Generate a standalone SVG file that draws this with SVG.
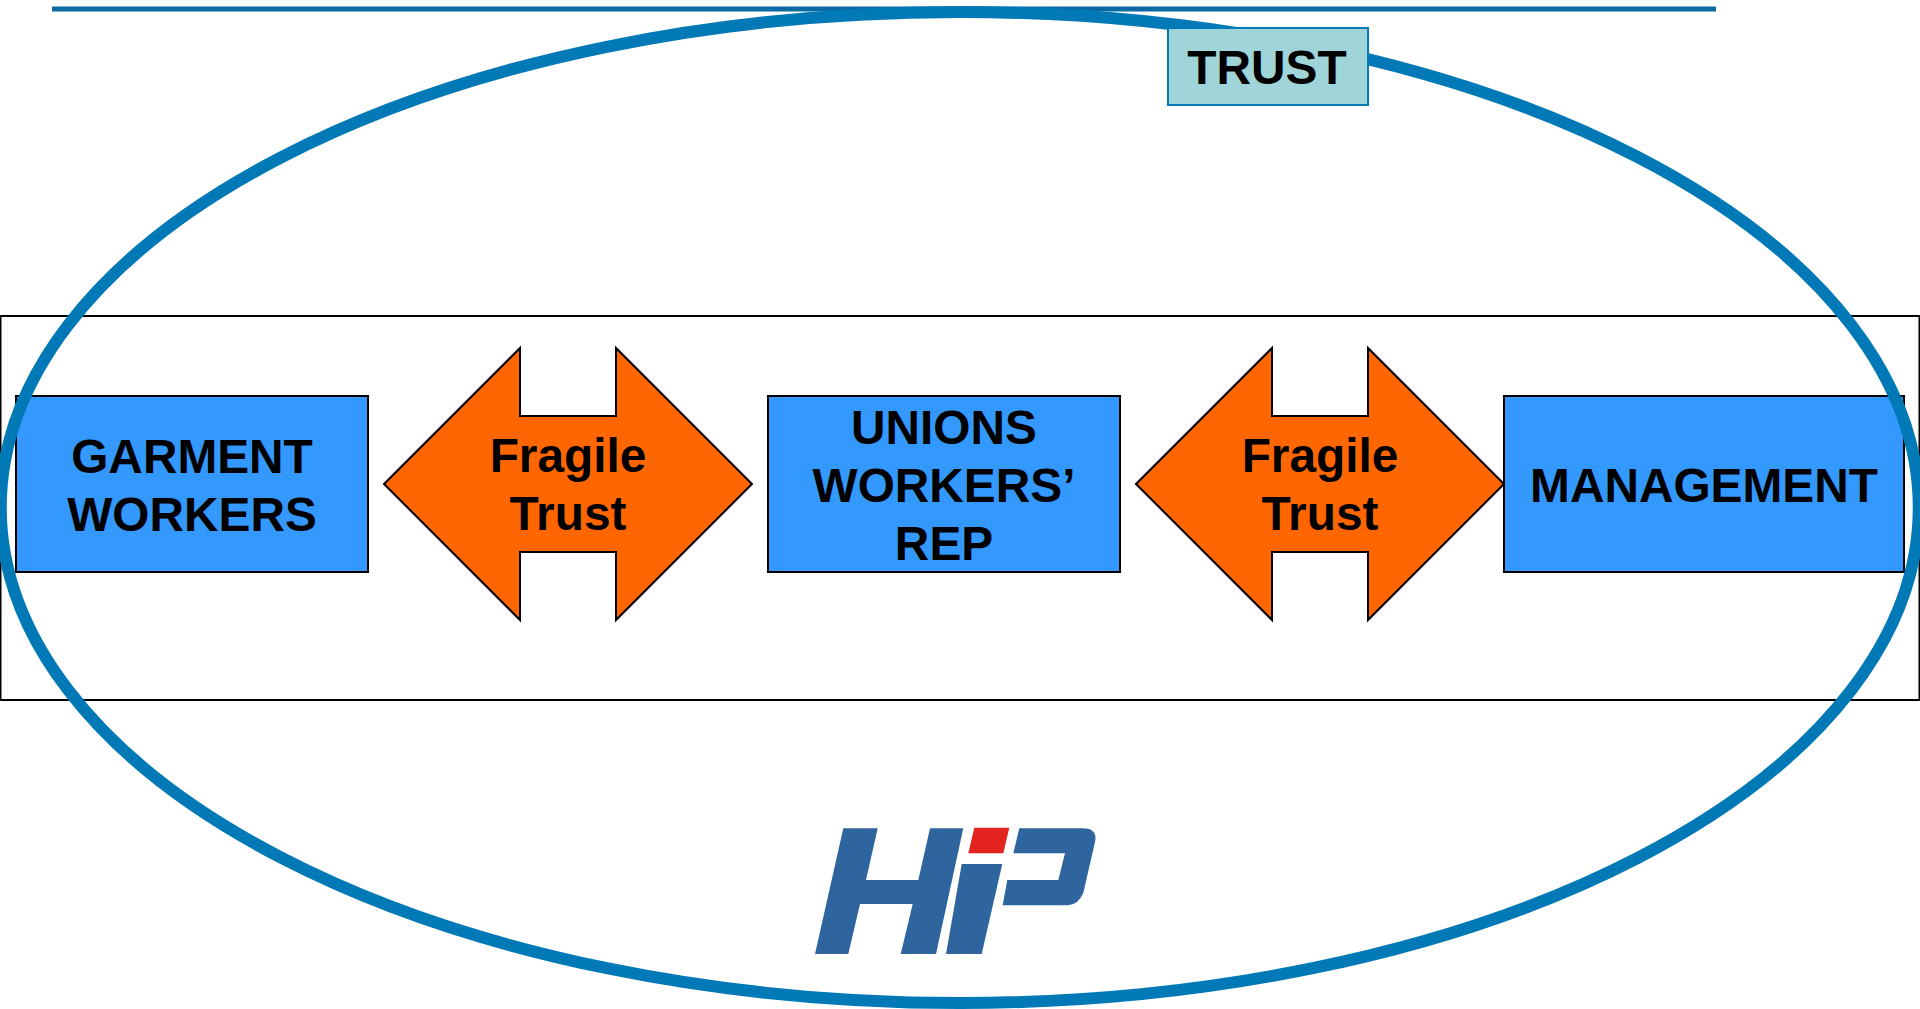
<svg xmlns="http://www.w3.org/2000/svg" width="1920" height="1009" viewBox="0 0 1920 1009">
<style>
text{font-family:"Liberation Sans",Arial,sans-serif;font-weight:700;font-size:47.8px;fill:#000;text-anchor:middle}
.box{fill:#3399ff;stroke:#000;stroke-width:2}
.arrow{fill:#ff6600;stroke:#000;stroke-width:2;stroke-linejoin:miter}
.logo{fill:#2f659f}
</style>
<rect width="1920" height="1009" fill="#fff"/>
<rect id="frame" x="0.5" y="316" width="1919" height="384" fill="none" stroke="#000" stroke-width="2"/>
<g id="garment-workers"><rect class="box" x="16" y="396" width="352" height="176"/><text x="192" y="472.5">GARMENT</text><text x="192" y="530.5">WORKERS</text></g>
<g id="unions"><rect class="box" x="768" y="396" width="352" height="176"/><text x="944" y="444">UNIONS</text><text x="944" y="502">WORKERS’</text><text x="944" y="560">REP</text></g>
<g id="management"><rect class="box" x="1504" y="396" width="400" height="176"/><text x="1704" y="501.5">MANAGEMENT</text></g>
<g id="connectors">
<g id="fragile-trust-1"><path class="arrow" d="M384 484L520 348V416H616V348L752 484L616 620V552H520V620Z"/><text x="568" y="472">Fragile</text><text x="568" y="530">Trust</text></g>
<g id="fragile-trust-2"><path class="arrow" d="M1136 484L1272 348V416H1368V348L1504 484L1368 620V552H1272V620Z"/><text x="1320" y="472">Fragile</text><text x="1320" y="530">Trust</text></g>
</g>
<line id="top-line" x1="52" y1="9" x2="1716" y2="9" stroke="#0a6aa1" stroke-width="5"/>
<ellipse id="trust-ellipse" cx="959.75" cy="507.5" rx="959" ry="495.5" fill="none" stroke="#0079b6" stroke-width="12"/>
<g id="trust"><rect x="1168" y="28" width="200" height="77" fill="#9fd5d9" stroke="#0079b6" stroke-width="2"/><text x="1267" y="84">TRUST</text></g>
<g id="hip-logo">
<path class="logo" d="M843.3 828.3H877.7L866 880H918.3L930 828.3H963.3L936 954H900.7L912.7 904H860L848.3 954H815Z"/>
<path class="logo" d="M961.7 864H1002.3L981.7 954H946Z"/>
<path fill="#e2231f" d="M974.3 827.7H1009.3L1003.3 853.3H968.3Z"/>
<path class="logo" d="M1019.3 828.3H1081.7Q1098 828 1095 842L1083.3 893Q1078 905 1068 905.3H1002.7L1007.3 880H1058.3L1065 853.3H1013.3Z"/>
</g>
</svg>
